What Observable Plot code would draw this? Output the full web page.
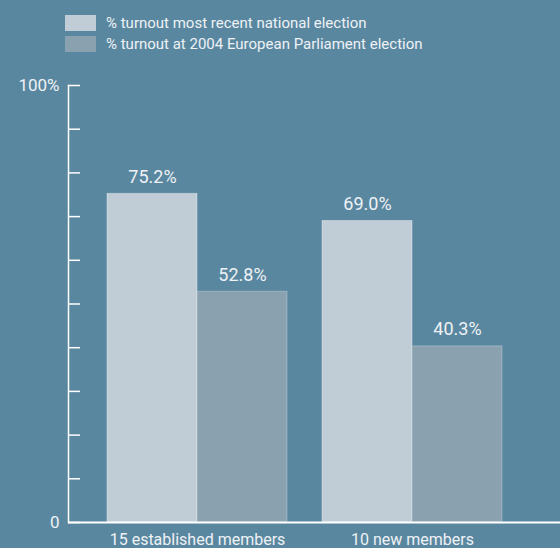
<!DOCTYPE html>
<html>
<head>
<meta charset="utf-8">
<script src="https://cdn.jsdelivr.net/npm/d3@7"></script>
<script src="https://cdn.jsdelivr.net/npm/@observablehq/plot@0.6"></script>
<style>
  html, body { margin: 0; padding: 0; background: #5a87a0; width: 560px; height: 548px; overflow: hidden; }
  body { font-family: Roboto, "Liberation Sans", sans-serif; color: #eef2f5; }
  #legend { height: 56px; box-sizing: border-box; padding-top: 12px; }
  .row { display: flex; align-items: center; height: 21px; margin-left: 65px; }
  .sw { width: 31px; height: 16px; flex: none; }
  .lab { margin-left: 10px; font-size: 15px; line-height: 16px; white-space: nowrap; }
  #chart svg { display: block; }
</style>
</head>
<body>
<div id="legend"></div>
<div id="chart"></div>
<script>
// ---- data ----
const groups = ["15 established members", "10 new members"];
const nationalTurnout = [75.2, 69.0];
const europeanTurnout = [52.8, 40.3];
const seriesLabels = [
  "% turnout most recent national election",
  "% turnout at 2004 European Parliament election"
];
const seriesColors = ["#c1cdd6", "#8aa1b0"];
const yTicks = [0, 10, 20, 30, 40, 50, 60, 70, 80, 90, 100];
const yTickLabels = [[0, "0"], [100, "100%"]];

// ---- legend ----
const legend = document.getElementById("legend");
seriesLabels.forEach((s, i) => {
  const row = document.createElement("div");
  row.className = "row";
  row.innerHTML = `<span class="sw" style="background:${seriesColors[i]}"></span><span class="lab">${s}</span>`;
  legend.appendChild(row);
});

// ---- chart ----
const W = 560, H = 492, mL = 68, mR = 0, mT = 29, mB = 26;
const xOpts = {paddingInner: 0.163, paddingOuter: 0.2256, align: 0.402};
const bw = d3.scaleBand().domain(groups).range([mL, W - mR])
  .paddingInner(xOpts.paddingInner).paddingOuter(xOpts.paddingOuter).align(xOpts.align).bandwidth();

const national = groups.map((g, i) => ({group: g, value: nationalTurnout[i]}));
const european = groups.map((g, i) => ({group: g, value: europeanTurnout[i]}));
const fmt = d => d.value.toFixed(1) + "%";
const textColor = "#eef2f5";

const plot = Plot.plot({
  width: W, height: H,
  marginLeft: mL, marginRight: mR, marginTop: mT, marginBottom: mB,
  style: {background: "transparent", fontFamily: "Roboto, 'Liberation Sans', sans-serif", color: textColor},
  x: {domain: groups, ...xOpts, label: null},
  y: {domain: [0, 100], label: null},
  marks: [
    Plot.barY(national, {x: "group", y: "value", fill: seriesColors[0], insetRight: bw / 2,
      stroke: "#ffffff", strokeOpacity: 0.35, strokeWidth: 1}),
    Plot.barY(european, {x: "group", y: "value", fill: seriesColors[1], insetLeft: bw / 2,
      stroke: "#ffffff", strokeOpacity: 0.25, strokeWidth: 1}),
    Plot.text(national, {x: "group", y: "value", text: fmt, dx: -bw / 4, dy: -11, lineAnchor: "bottom", fill: textColor, fontSize: 18}),
    Plot.text(european, {x: "group", y: "value", text: fmt, dx: bw / 4, dy: -11, lineAnchor: "bottom", fill: textColor, fontSize: 18}),
    Plot.axisY({ticks: yTicks, tickSize: -12, tickFormat: () => "", stroke: "#ffffff", strokeWidth: 1.5, strokeOpacity: 1}),
    Plot.axisY({ticks: yTickLabels.map(d => d[0]), tickSize: 0, tickPadding: 9,
      tickFormat: v => new Map(yTickLabels).get(v), fontSize: 17, fill: textColor}),
    Plot.frame({anchor: "left", stroke: "#ffffff", strokeWidth: 1.5}),
    Plot.ruleY([0], {stroke: "#ffffff", strokeWidth: 2}),
    Plot.axisX({tickSize: 0, tickPadding: 11, fontSize: 16, fill: textColor})
  ]
});
document.getElementById("chart").appendChild(plot);
</script>
</body>
</html>
